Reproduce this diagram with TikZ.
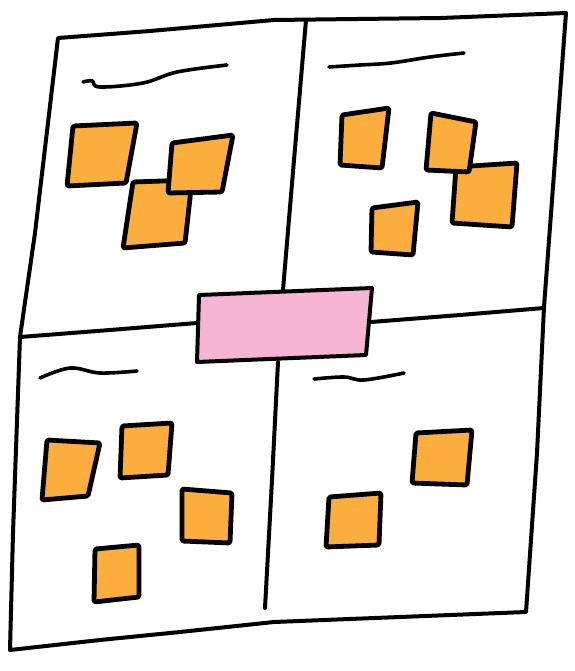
\documentclass[tikz,border=0pt]{standalone}
\usetikzlibrary{calc}
\definecolor{sticky}{HTML}{FBAE3D}
\definecolor{pinknote}{HTML}{F5B5D3}
\tikzset{
  boardline/.style={line width=4pt, line join=round, line cap=round, black},
  note/.style={line width=4.8pt, line join=round, line cap=round, rounded corners=1.5pt, draw=black, fill=sticky},
  bignote/.style={line width=4pt, line join=round, line cap=round, draw=black, fill=pinknote},
  scribble/.style={line width=3.6pt, line cap=round, black}
}
\begin{document}
\begin{tikzpicture}[x=1pt,y=-1pt]
\useasboundingbox (0,0) rectangle (574,671);
% board outline
\filldraw[boardline, fill=white] (58,38) -- (150,31) -- (274,20) -- (441,18) -- (566,13)
  -- (555,160) -- (544,307) -- (537,453) -- (526,612)
  -- (400,617) -- (274,622) -- (180,632) -- (100,640) -- (10,650)
  -- (13,533) -- (20,337) -- (35,233) -- cycle;
% dividers
\draw[boardline] (20,337) -- (110,330) -- (197,323);
\draw[boardline] (371,322) -- (460,315) -- (544,308);
\draw[boardline] (306,20) -- (294,160) -- (283,290);
\draw[boardline] (278,362) -- (272,480) -- (265,608);
% scribbles
\draw[scribble] plot[smooth, tension=0.6] coordinates {(83,82) (92,81) (100,87) (143,83) (177,72) (227,65)};
\draw[scribble] plot[smooth, tension=0.6] coordinates {(329,67) (360,65) (391,63) (430,57) (464,53)};
\draw[scribble] plot[smooth, tension=0.6] coordinates {(40,378) (70,368) (100,373) (137,371)};
\draw[scribble] plot[smooth, tension=0.6] coordinates {(314,379) (344,377) (364,380) (404,373)};
% top-left notes
\filldraw[note] (73,126) -- (137,123) -- (126,183) -- (67,186) -- cycle;
\filldraw[note] (133,182) -- (192,180) -- (185,243) -- (123,248) -- cycle;
\filldraw[note] (172,143) -- (233,135) -- (222,192) -- (168,193) -- cycle;
% top-right notes
\filldraw[note] (342,115) -- (389,108) -- (382,168) -- (340,165) -- cycle;
\filldraw[note] (456,167) -- (517,163) -- (512,227) -- (452,223) -- cycle;
\filldraw[note] (431,113) -- (476,122) -- (469,172) -- (426,170) -- cycle;
\filldraw[note] (372,208) -- (418,202) -- (413,255) -- (371,252) -- cycle;
% bottom-left notes
\filldraw[note] (47,440) -- (100,443) -- (88,496) -- (42,500) -- cycle;
\filldraw[note] (122,426) -- (172,423) -- (168,475) -- (120,478) -- cycle;
\filldraw[note] (182,489) -- (232,493) -- (230,543) -- (182,541) -- cycle;
\filldraw[note] (95,549) -- (139,545) -- (139,597) -- (94,602) -- cycle;
% bottom-right notes
\filldraw[note] (416,433) -- (472,430) -- (467,485) -- (412,483) -- cycle;
\filldraw[note] (329,497) -- (381,493) -- (379,545) -- (326,547) -- cycle;
% central pink note
\filldraw[bignote] (199,295) -- (372,288) -- (366,355) -- (197,362) -- cycle;
\end{tikzpicture}
\end{document}
